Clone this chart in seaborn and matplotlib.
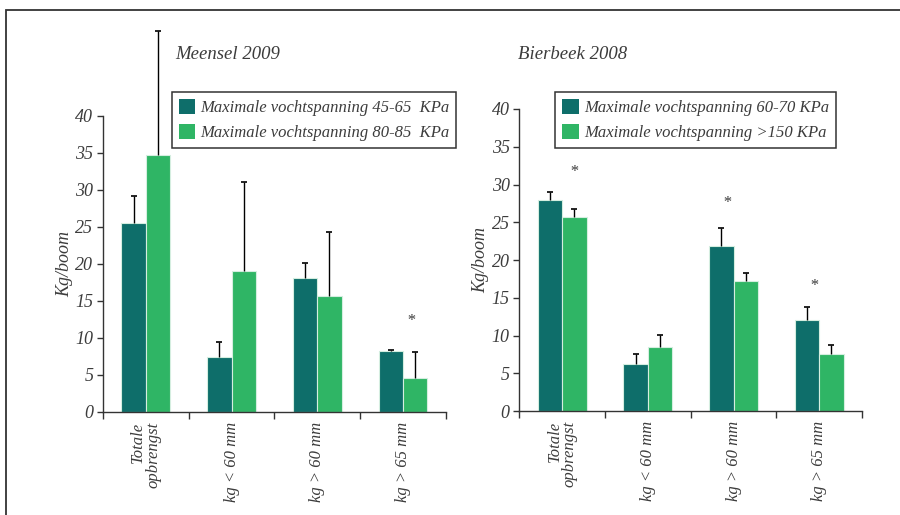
import matplotlib
matplotlib.use("Agg")
import matplotlib.pyplot as plt
import matplotlib.patches as mpatches
import seaborn as sns
import pandas as pd
import numpy as np

categories = ["Totale\nopbrengst", "kg < 60 mm", "kg > 60 mm", "kg > 65 mm"]

# Meensel 2009
meensel_levels = ["Maximale vochtspanning 45-65  KPa", "Maximale vochtspanning 80-85  KPa"]
meensel_low = [25.5, 7.35, 18.1, 8.2]
meensel_low_err = [3.6, 2.1, 2.0, 0.2]
meensel_high = [34.7, 19.0, 15.7, 4.55]
meensel_high_err = [16.7, 12.0, 8.6, 3.45]
meensel_stars = [(3, 12.2, 0.09)]   # (category, y, x offset)

# Bierbeek 2008
bierbeek_levels = ["Maximale vochtspanning 60-70 KPa", "Maximale vochtspanning >150 KPa"]
bierbeek_low = [28.0, 6.2, 21.9, 12.1]
bierbeek_low_err = [1.0, 1.4, 2.3, 1.7]
bierbeek_high = [25.7, 8.45, 17.3, 7.55]
bierbeek_high_err = [1.0, 1.65, 1.0, 1.2]
bierbeek_stars = [(0, 31.7, 0.13), (2, 27.5, -0.08), (3, 16.6, -0.07)]

dark = "#0e6e6a"
light = "#2fb565"
txt = "#3c3c3c"

sns.set_style("ticks")
plt.rcParams["font.family"] = ["Liberation Serif", "DejaVu Serif"]
plt.rcParams["font.style"] = "italic"

fig = plt.figure(figsize=(9, 5.15), dpi=100)


def panel(rect, title, title_xy, levels, low, low_err, high, high_err, stars, legend_xy):
    ax = fig.add_axes(rect)
    df = pd.DataFrame({
        "cat": categories * 2,
        "val": low + high,
        "level": [levels[0]] * 4 + [levels[1]] * 4,
    })
    sns.barplot(data=df, x="cat", y="val", hue="level", hue_order=levels,
                palette=[dark, light], width=0.57, gap=0, errorbar=None,
                edgecolor="#d5eee0", linewidth=0.8, saturation=1, ax=ax)

    # upper error bars only, no cap at the bar top
    for cont, vals, errs in zip(ax.containers, [low, high], [low_err, high_err]):
        xs = [p.get_x() + p.get_width() / 2 for p in cont.patches]
        eb = ax.errorbar(xs, vals, yerr=[np.zeros(len(errs)), errs], fmt="none",
                         ecolor="black", elinewidth=1, capsize=2.5, capthick=1.2)
        eb[1][0].set_visible(False)
        for art in eb.get_children():
            art.set_clip_on(False)

    for c, y, dx in stars:
        ax.text(c + dx, y, "*", ha="center", va="center", fontsize=12, color=txt)

    ax.set_ylim(0, 40)
    ax.set_xlim(-0.5, 3.5)
    ax.set_yticks(range(0, 41, 5))
    ax.set_xticks(np.arange(-0.5, 4, 1))
    ax.set_xticklabels([])
    ax.set_xticks(range(4), minor=True)
    ax.set_xticklabels(categories, minor=True, rotation=90, ha="center", va="top",
                       ma="right", fontsize=12, color=txt, linespacing=0.95)
    ax.tick_params(axis="x", which="minor", length=0, pad=7)
    ax.tick_params(axis="x", which="major", length=5, width=1, color="#333333")
    ax.tick_params(axis="y", length=4, width=1, color="#333333", labelsize=13,
                   labelcolor=txt, pad=3)
    ax.set_xlabel("")
    ax.set_ylabel("Kg/boom", fontsize=13, color=txt, labelpad=1.5)
    for s in ["left", "bottom"]:
        ax.spines[s].set_color("#333333")
        ax.spines[s].set_linewidth(1)
    sns.despine(ax=ax)

    sns.move_legend(ax, "upper left", bbox_to_anchor=legend_xy, title=None,
                    frameon=True, fancybox=False, framealpha=1, edgecolor="#333333",
                    fontsize=12, handlelength=1.0, handleheight=1.0,
                    handletextpad=0.3, labelspacing=0.5, borderpad=0.42,
                    borderaxespad=0)
    leg = ax.get_legend()
    leg.get_frame().set_linewidth(1.1)
    for t in leg.get_texts():
        t.set_color(txt)
    for h in leg.legend_handles:
        h.set_edgecolor("none")

    ax.text(title_xy[0], title_xy[1], title, transform=ax.transAxes,
            ha="left", va="center", fontsize=13.5, color=txt)
    return ax


panel([0.1144, 0.2006, 0.381, 0.5748], "Meensel 2009", (0.21, 1.205),
      meensel_levels, meensel_low, meensel_low_err, meensel_high, meensel_high_err,
      meensel_stars, (0.2, 1.081))
panel([0.577, 0.2014, 0.3808, 0.587], "Bierbeek 2008", (-0.005, 1.179),
      bierbeek_levels, bierbeek_low, bierbeek_low_err, bierbeek_high, bierbeek_high_err,
      bierbeek_stars, (0.105, 1.057))

# page frame
fig.add_artist(mpatches.Rectangle((6 / 900, -0.5), 2, 1 - 10 / 515 + 0.5,
                                  transform=fig.transFigure, fill=False,
                                  edgecolor="#333333", linewidth=1.3))

fig.savefig("out.png", dpi=100)
